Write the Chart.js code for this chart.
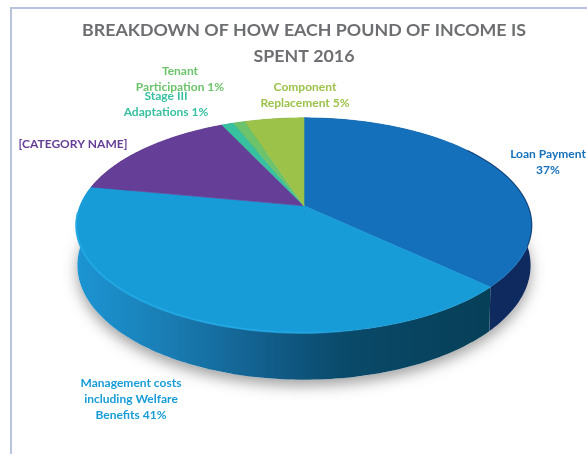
<!DOCTYPE html>
<html>
<head>
<meta charset="utf-8">
<title>Breakdown of income 2016</title>
<script src="https://cdn.jsdelivr.net/npm/chart.js@4"></script>
<style>
  html, body { margin: 0; background: #fff; }
  #wrap { position: relative; width: 587px; height: 454px; overflow: hidden; }
  #frame { position: absolute; left: 10px; top: 7px; right: -5px; bottom: -5px; border: 2px solid #b9c3dd; }
  canvas { position: absolute; left: 0; top: 0; }
</style>
</head>
<body>
<div id="wrap">
  <div id="frame"></div>
  <canvas id="chart" width="587" height="454"></canvas>
</div>
<script>
const titleLines = ["BREAKDOWN OF HOW EACH POUND OF INCOME IS", "SPENT 2016"];
const categories = ["Loan Payment", "Management costs including Welfare Benefits", "[CATEGORY NAME]", "Stage III Adaptations", "Tenant Participation", "Component Replacement"];
const values = [37, 41, 15, 1, 1, 5];
const sliceColors = ["#1570bb", "#179cd8", "#653f97", "#37c1a0", "#6cc36b", "#9cc24a"];
const labelLines = [
  ["Loan Payment", "37%"],
  ["Management costs", "including Welfare", "Benefits 41%"],
  ["[CATEGORY NAME]"],
  ["Stage III", "Adaptations 1%"],
  ["Tenant", "Participation 1%"],
  ["Component", "Replacement 5%"]
];
// where each label sits, centre of first line
const labelPos = [[548, 154], [131, 383], [73, 144], [166, 96], [180, 71], [305, 87]];
const labelOrder = [4, 3, 5, 2, 0, 1];

// pie tilt, perspective
const TILT = 0.464;
const PERSP = 0.181;

function project(el, angle) {
  const u = Math.cos(angle), v = Math.sin(angle);
  const d = 1 - PERSP * v;
  return { x: el.x + el.outerRadius * u / d, y: el.y + el.outerRadius * TILT * v / d };
}

// same point on the bottom rim of the pie
function projectBottom(el, angle) {
  const p = project(el, angle);
  const midY = el.y + 19.5;
  return { x: el.x + (p.x - el.x) * 0.995, y: midY + (p.y - midY) * 1.065 + 40 };
}

function arcPoints(fn, el, from, to) {
  const n = Math.max(2, Math.ceil(Math.abs(to - from) / 0.02));
  const pts = [];
  for (let i = 0; i <= n; i++) pts.push(fn(el, from + (to - from) * i / n));
  return pts;
}

const pie3d = {
  id: "pie3d",
  beforeDatasetDraw(chart, args) {
    const ctx = chart.ctx;
    const arcs = chart.getDatasetMeta(args.index).data;
    const first = arcs[0];

    // soft shadow under the pie
    ctx.save();
    ctx.shadowColor = "rgba(70,70,70,0.5)";
    ctx.shadowBlur = 14;
    ctx.shadowOffsetY = 6;
    ctx.fillStyle = "#fff";
    ctx.beginPath();
    arcPoints(projectBottom, first, 0, Math.PI * 2).forEach((p) => ctx.lineTo(p.x, p.y));
    ctx.fill();
    ctx.restore();

    // side walls
    const mgmtWall = ctx.createLinearGradient(first.x - first.outerRadius, 0, first.x + first.outerRadius * 0.8, 0);
    mgmtWall.addColorStop(0, "#1c94d2");
    mgmtWall.addColorStop(0.2, "#1a7fb6");
    mgmtWall.addColorStop(0.45, "#125f8d");
    mgmtWall.addColorStop(0.65, "#0a4a6a");
    mgmtWall.addColorStop(1, "#063f58");
    const wallColors = ["#0f2a5e", mgmtWall, "#3f2660", "#1f7a65", "#437a43", "#61792e"];
    arcs.forEach((el, i) => {
      const top = arcPoints(project, el, el.startAngle, el.endAngle);
      const bottom = arcPoints(projectBottom, el, el.endAngle, el.startAngle);
      ctx.fillStyle = wallColors[i];
      ctx.beginPath();
      top.concat(bottom).forEach((p) => ctx.lineTo(p.x, p.y));
      ctx.closePath();
      ctx.fill();
    });

    // top faces
    arcs.forEach((el, i) => {
      ctx.fillStyle = sliceColors[i];
      ctx.strokeStyle = sliceColors[i];
      ctx.lineWidth = 0.6;
      ctx.beginPath();
      ctx.moveTo(el.x, el.y);
      arcPoints(project, el, el.startAngle, el.endAngle).forEach((p) => ctx.lineTo(p.x, p.y));
      ctx.closePath();
      ctx.fill();
      ctx.stroke();
    });

    // light rim on the front left, dark rim on the right
    const rim = ctx.createLinearGradient(first.x - first.outerRadius, 0, first.x + 60, 0);
    rim.addColorStop(0, "rgba(34,168,228,0.9)");
    rim.addColorStop(0.8, "rgba(34,168,228,0.8)");
    rim.addColorStop(1, "rgba(34,168,228,0)");
    ctx.strokeStyle = rim;
    ctx.lineWidth = 2;
    ctx.beginPath();
    arcPoints(project, first, Math.PI * 0.98, Math.PI * 0.4).forEach((p) => ctx.lineTo(p.x, p.y));
    ctx.stroke();

    ctx.strokeStyle = "rgba(10,40,90,0.6)";
    ctx.lineWidth = 1.2;
    ctx.beginPath();
    arcPoints(project, first, -Math.PI * 0.2, Math.PI * 0.12).forEach((p) => ctx.lineTo(p.x, p.y));
    ctx.stroke();

    return false; // skip the flat arcs
  },
  afterDraw(chart) {
    const ctx = chart.ctx;
    ctx.save();
    ctx.font = "bold 12px Lato";
    ctx.textAlign = "center";
    ctx.textBaseline = "middle";
    labelOrder.forEach((i) => {
      ctx.fillStyle = sliceColors[i];
      labelLines[i].forEach((line, n) => {
        ctx.fillText(line, labelPos[i][0], labelPos[i][1] + n * 16);
      });
    });
    ctx.restore();
  }
};

new Chart(document.getElementById("chart"), {
  type: "pie",
  plugins: [pie3d],
  data: {
    labels: categories,
    datasets: [{ data: values, backgroundColor: sliceColors, borderWidth: 0 }]
  },
  options: {
    responsive: false,
    animation: false,
    radius: 224,
    layout: { padding: { left: 21, right: 0, top: 0, bottom: 119 } },
    plugins: {
      legend: { display: false },
      tooltip: { enabled: false },
      title: {
        display: true,
        text: titleLines,
        color: "#6d6e71",
        font: { family: "Lato", size: 17.8, weight: "bold", lineHeight: 1.46 },
        padding: { top: 17, bottom: 7.7 }
      }
    }
  }
});
</script>
</body>
</html>
